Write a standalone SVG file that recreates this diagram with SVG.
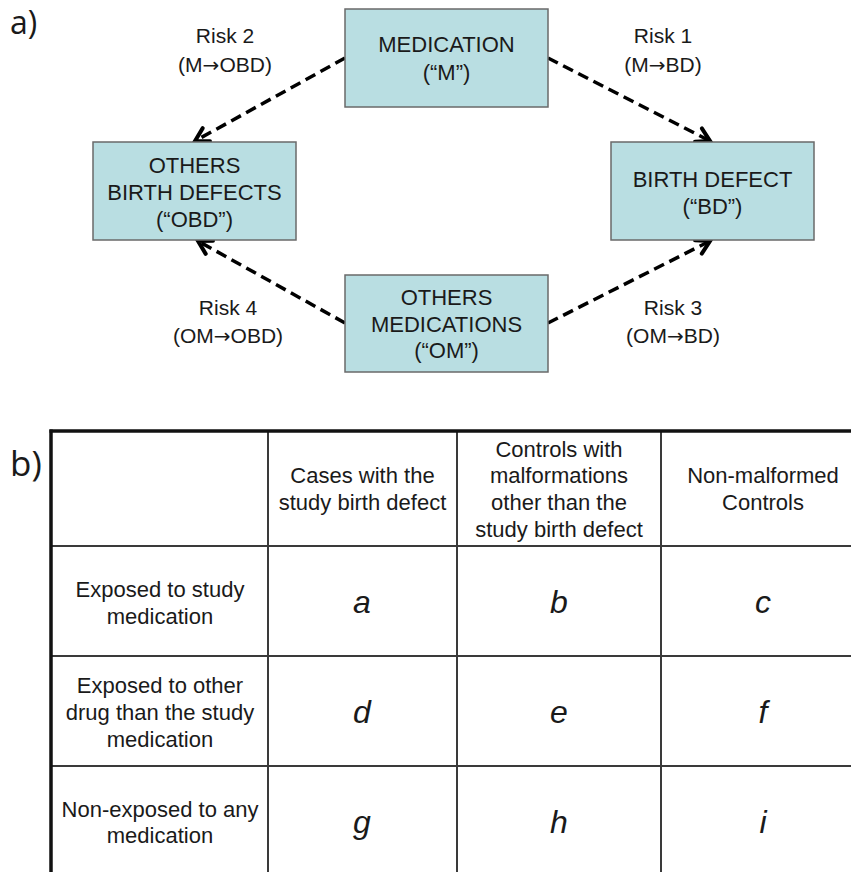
<svg xmlns="http://www.w3.org/2000/svg" width="851" height="872" viewBox="0 0 851 872">
  <style>
    text { font-family: "Liberation Sans", Arial, sans-serif; fill: #1a1a1a; text-anchor: middle; }
    .box rect { fill: #b9dee2; stroke: #6a6a6a; stroke-width: 1.5; }
    .bt { font-size: 22px; }
    .rl { font-size: 21px; }
    .ar { font-family: "DejaVu Sans", sans-serif; font-size: 20px; }
    .tt { font-size: 22px; }
    .it { font-size: 32px; font-style: italic; }
    .panel { font-family: "Open Sans", "Liberation Sans", sans-serif; text-anchor: start; }
    .conn line { stroke: #000; stroke-width: 3.5; stroke-dasharray: 11 6; fill: none; }
    .grid line { stroke: #3a3a3a; stroke-width: 2; }
    .outer line { stroke: #111; stroke-width: 3.5; }
  </style>
  <defs>
    <marker id="chev" markerUnits="userSpaceOnUse" markerWidth="22" markerHeight="22" viewBox="-16 -11 22 22" refX="0" refY="0" orient="auto">
      <path d="M-13,-7.5 L0,0 L-13,7.5" fill="none" stroke="#000" stroke-width="4" stroke-dasharray="none" stroke-linecap="round" stroke-linejoin="miter"/>
    </marker>
  </defs>
  <rect x="0" y="0" width="851" height="872" fill="#fff"/>

  <text class="panel" x="10" y="34" font-size="32">a)</text>
  <text class="panel" x="10" y="476" font-size="35">b)</text>

  <g id="connectors" class="conn">
    <line x1="548" y1="58" x2="710" y2="141" marker-end="url(#chev)"/>
    <line x1="345" y1="58" x2="195" y2="141" marker-end="url(#chev)"/>
    <line x1="345" y1="323" x2="198" y2="241" marker-end="url(#chev)"/>
    <line x1="548" y1="323" x2="710" y2="241" marker-end="url(#chev)"/>
  </g>

  <g id="node-m" class="box">
    <rect x="345" y="9" width="203" height="98"/>
    <text class="bt" x="446.5" y="52">MEDICATION</text>
    <text class="bt" x="446.5" y="80">(“M”)</text>
  </g>
  <g id="node-obd" class="box">
    <rect x="93" y="142" width="203" height="98"/>
    <text class="bt" x="194.5" y="173">OTHERS</text>
    <text class="bt" x="194.5" y="200">BIRTH DEFECTS</text>
    <text class="bt" x="194.5" y="227">(“OBD”)</text>
  </g>
  <g id="node-bd" class="box">
    <rect x="611" y="142" width="203" height="98"/>
    <text class="bt" x="712.5" y="187">BIRTH DEFECT</text>
    <text class="bt" x="712.5" y="214">(“BD”)</text>
  </g>
  <g id="node-om" class="box">
    <rect x="345" y="275" width="203" height="97"/>
    <text class="bt" x="446.5" y="305">OTHERS</text>
    <text class="bt" x="446.5" y="332">MEDICATIONS</text>
    <text class="bt" x="446.5" y="358">(“OM”)</text>
  </g>

  <g id="labels">
    <text class="rl" x="225" y="43">Risk 2</text>
    <text class="rl" x="225" y="72">(M<tspan class="ar">→</tspan>OBD)</text>
    <text class="rl" x="663" y="43">Risk 1</text>
    <text class="rl" x="663" y="72">(M<tspan class="ar">→</tspan>BD)</text>
    <text class="rl" x="228" y="315">Risk 4</text>
    <text class="rl" x="228" y="343">(OM<tspan class="ar">→</tspan>OBD)</text>
    <text class="rl" x="673" y="315">Risk 3</text>
    <text class="rl" x="673" y="343">(OM<tspan class="ar">→</tspan>BD)</text>
  </g>

  <g id="table">
    <g class="grid">
      <line x1="268" y1="431" x2="268" y2="872"/>
      <line x1="457" y1="431" x2="457" y2="872"/>
      <line x1="661" y1="431" x2="661" y2="872"/>
      <line x1="51" y1="546" x2="851" y2="546"/>
      <line x1="51" y1="656" x2="851" y2="656"/>
      <line x1="51" y1="766" x2="851" y2="766"/>
    </g>
    <g class="outer">
      <line x1="51" y1="429.5" x2="51" y2="872"/>
      <line x1="49.5" y1="431" x2="851" y2="431"/>
    </g>
    <text class="tt" x="362.5" y="483">Cases with the</text>
    <text class="tt" x="362.5" y="510">study birth defect</text>
    <text class="tt" x="559" y="457">Controls with</text>
    <text class="tt" x="559" y="483">malformations</text>
    <text class="tt" x="559" y="510">other than the</text>
    <text class="tt" x="559" y="537">study birth defect</text>
    <text class="tt" x="763" y="483">Non-malformed</text>
    <text class="tt" x="763" y="510">Controls</text>

    <text class="tt" x="160" y="597">Exposed to study</text>
    <text class="tt" x="160" y="624">medication</text>
    <text class="tt" x="160" y="693">Exposed to other</text>
    <text class="tt" x="160" y="720">drug than the study</text>
    <text class="tt" x="160" y="747">medication</text>
    <text class="tt" x="160" y="817">Non-exposed to any</text>
    <text class="tt" x="160" y="843">medication</text>

    <text class="it" x="362" y="613">a</text>
    <text class="it" x="559" y="613">b</text>
    <text class="it" x="763" y="613">c</text>
    <text class="it" x="362" y="723">d</text>
    <text class="it" x="559" y="723">e</text>
    <text class="it" x="763" y="723">f</text>
    <text class="it" x="362" y="833">g</text>
    <text class="it" x="559" y="833">h</text>
    <text class="it" x="763" y="833">i</text>
  </g>
</svg>
